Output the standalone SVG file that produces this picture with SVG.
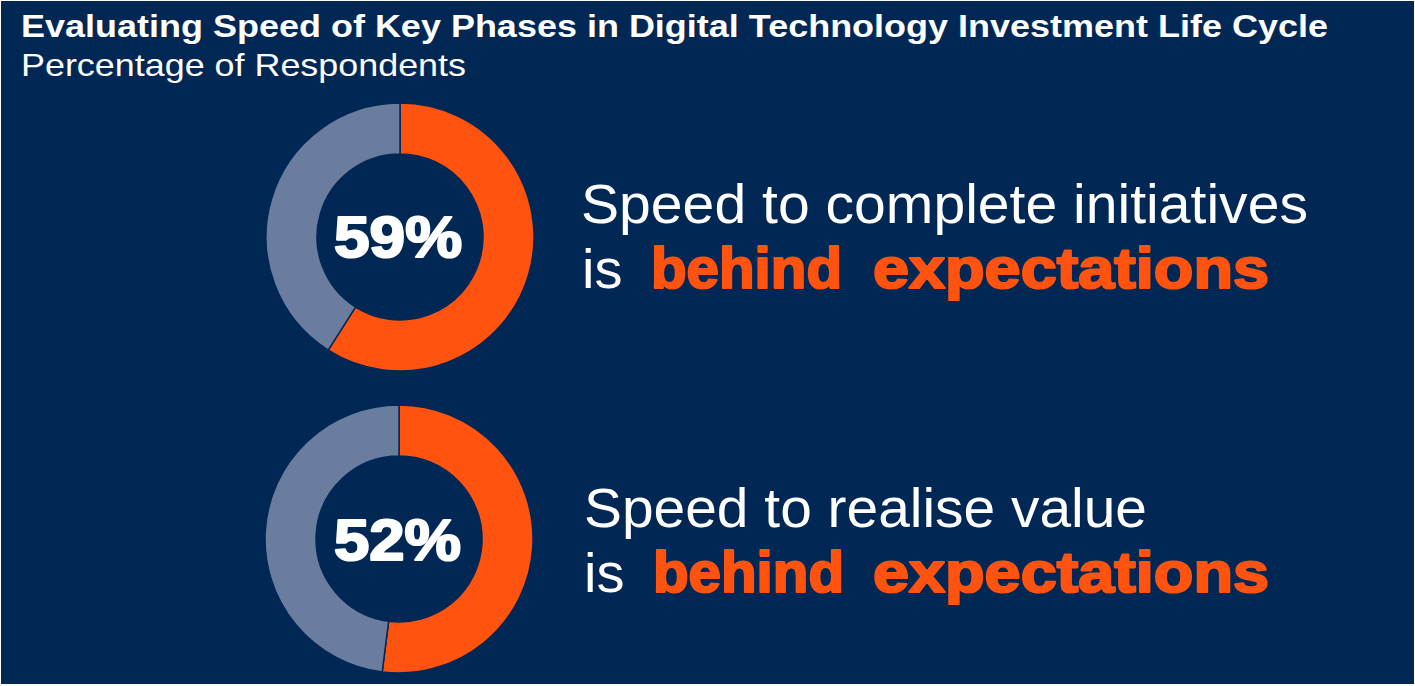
<svg xmlns="http://www.w3.org/2000/svg" width="1415" height="686" viewBox="0 0 1415 686">
  <style>
    .bg { fill: #012855; }
    .orange { fill: #FF530F; stroke: #012855; stroke-width: 1.5; }
    .gray { fill: #6A7D9E; stroke: #012855; stroke-width: 1.5; }
    .title { font-family: "Liberation Sans", Arial, sans-serif; font-weight: bold; font-size: 32px; fill: #ffffff; }
    .sub { font-family: "Liberation Sans", Arial, sans-serif; font-size: 32px; fill: #ffffff; }
    .pct { font-family: "Liberation Sans", Arial, sans-serif; font-weight: bold; font-size: 58px; fill: #ffffff; stroke: #ffffff; stroke-width: 2.2; stroke-linejoin: round; }
    .main { font-family: "Liberation Sans", Arial, sans-serif; font-size: 56px; fill: #ffffff; }
    .hl { font-family: "Liberation Sans", Arial, sans-serif; font-weight: bold; font-size: 57px; fill: #FF530F; stroke: #FF530F; stroke-width: 2.2; stroke-linejoin: round; }
  </style>
  <rect x="0" y="0" width="1415" height="686" fill="#ffffff"/>
  <rect class="bg" x="1" y="1" width="1413" height="683"/>

  <g id="header">
    <text class="title" x="21" y="37" textLength="1307" lengthAdjust="spacingAndGlyphs">Evaluating Speed of Key Phases in Digital Technology Investment Life Cycle</text>
    <text class="sub" x="21" y="76" textLength="445" lengthAdjust="spacingAndGlyphs">Percentage of Respondents</text>
  </g>

  <g id="donut-59">
    <path class="orange" d="M400,103 A134,134 0 1 1 328.20,350.14 L355.53,307.08 A83,83 0 1 0 400,154 Z"/>
    <path class="gray" d="M328.20,350.14 A134,134 0 0 1 400,103 L400,154 A83,83 0 0 0 355.53,307.08 Z"/>
    <text class="pct" x="334" y="257" textLength="128" lengthAdjust="spacingAndGlyphs">59%</text>
  </g>

  <g id="label-1">
    <text class="main" x="581" y="223" textLength="727" lengthAdjust="spacingAndGlyphs">Speed to complete initiatives</text>
    <text class="main" x="582" y="288">is</text>
    <text class="hl" x="651" y="288" textLength="191" lengthAdjust="spacingAndGlyphs">behind</text>
    <text class="hl" x="873" y="288" textLength="396" lengthAdjust="spacingAndGlyphs">expectations</text>
  </g>

  <g id="donut-52">
    <path class="orange" d="M399,405 A134,134 0 1 1 382.21,671.94 L388.60,621.34 A83,83 0 1 0 399,456 Z"/>
    <path class="gray" d="M382.21,671.94 A134,134 0 0 1 399,405 L399,456 A83,83 0 0 0 388.60,621.34 Z"/>
    <text class="pct" x="334" y="560" textLength="127" lengthAdjust="spacingAndGlyphs">52%</text>
  </g>

  <g id="label-2">
    <text class="main" x="584" y="527" textLength="563" lengthAdjust="spacingAndGlyphs">Speed to realise value</text>
    <text class="main" x="584" y="592">is</text>
    <text class="hl" x="653" y="592" textLength="191" lengthAdjust="spacingAndGlyphs">behind</text>
    <text class="hl" x="873" y="592" textLength="396" lengthAdjust="spacingAndGlyphs">expectations</text>
  </g>

  <g id="connectors"></g>
</svg>
